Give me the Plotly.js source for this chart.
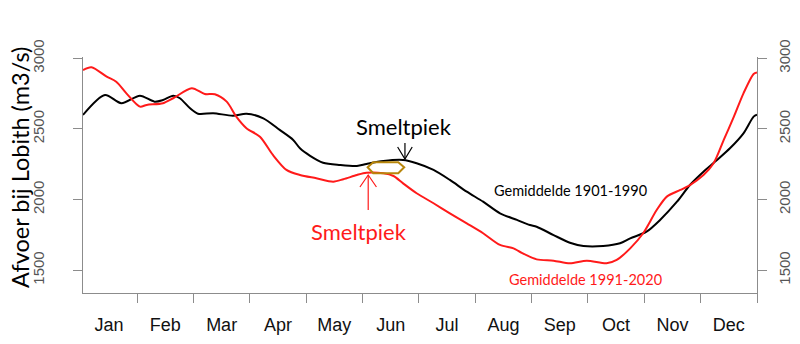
<!DOCTYPE html>
<html>
<head>
<meta charset="utf-8">
<script src="https://cdn.plot.ly/plotly-3.0.1.min.js"></script>
<style>html,body{margin:0;padding:0;background:#fff;}#chart{width:800px;height:344px;}</style>
</head>
<body>
<div id="chart"></div>
<script>
// x positions are in months since 1 January (0 = start of Jan, 12 = end of Dec)
const monthLabels = ["Jan","Feb","Mar","Apr","May","Jun","Jul","Aug","Sep","Oct","Nov","Dec"];
const monthCenters = [0.5,1.5,2.5,3.5,4.5,5.5,6.5,7.5,8.5,9.5,10.5,11.5];
const monthBounds = [1,2,3,4,5,6,7,8,9,10,11,12];
const yTicks = [1500,2000,2500,3000];

const xOld = [0.04,0.43,0.72,1.05,1.31,1.46,1.64,1.76,1.94,2.08,2.35,2.70,2.94,3.24,3.53,3.77,3.89,4.07,4.30,4.60,4.90,5.07,5.37,5.72,5.96,6.26,6.55,6.85,7.14,7.44,7.74,7.97,8.09,8.39,8.68,8.92,9.27,9.57,9.75,10.04,10.28,10.58,10.81,11.05,11.29,11.52,11.76,11.94,12.0];
const qOld = [2599,2740,2682,2735,2693,2705,2735,2717,2646,2608,2611,2594,2608,2575,2493,2422,2363,2310,2261,2245,2238,2252,2273,2280,2257,2210,2139,2056,1985,1903,1856,1820,1808,1749,1695,1672,1672,1691,1726,1773,1856,1985,2103,2197,2280,2363,2469,2587,2600];

const xNew = [0.04,0.19,0.46,0.63,0.81,1.05,1.17,1.46,1.64,1.97,2.20,2.38,2.59,2.76,2.94,3.18,3.41,3.65,3.89,4.18,4.48,4.66,4.90,5.07,5.37,5.55,5.72,5.96,6.26,6.55,6.85,7.14,7.44,7.68,7.79,8.09,8.39,8.68,8.98,9.33,9.51,9.75,9.98,10.22,10.40,10.64,10.81,11.05,11.23,11.41,11.59,11.76,11.94,12.0];
const qNew = [2917,2936,2870,2834,2752,2658,2670,2682,2717,2788,2747,2745,2693,2587,2505,2445,2316,2210,2174,2151,2127,2144,2174,2190,2186,2167,2115,2045,1974,1903,1832,1762,1679,1655,1631,1577,1568,1549,1568,1549,1573,1655,1762,1926,2021,2068,2103,2174,2257,2422,2587,2752,2889,2900];

const xRange = [0.04, 12.0];
const yRange = [1339, 3009];
const axisGray = "#8c8c8c";

const traces = [
  {x: xOld, y: qOld, type: "scatter", mode: "lines", xaxis: "x", yaxis: "y",
   line: {color: "#000000", width: 2, shape: "spline", smoothing: 0.8}, hoverinfo: "skip", showlegend: false},
  {x: xNew, y: qNew, type: "scatter", mode: "lines", xaxis: "x2", yaxis: "y2",
   line: {color: "#ff1a1a", width: 2, shape: "spline", smoothing: 0.8}, hoverinfo: "skip", showlegend: false},
  // empty helper traces so the label-only axes are drawn
  {x: [null], y: [null], type: "scatter", mode: "lines", xaxis: "x", yaxis: "y3", hoverinfo: "skip", showlegend: false},
  {x: [null], y: [null], type: "scatter", mode: "lines", xaxis: "x", yaxis: "y4", hoverinfo: "skip", showlegend: false}
];

// visible tick marks + axis lines (no labels)
const yMarks = {
  range: yRange, tickvals: yTicks, ticktext: yTicks.map(() => ""), ticks: "outside", ticklen: 9,
  tickcolor: axisGray, tickwidth: 1, showline: true, linecolor: axisGray, linewidth: 1,
  showgrid: false, zeroline: false
};
// labels only (transparent long ticks push labels outward)
const yLabels = {
  range: yRange, tickvals: yTicks, ticktext: yTicks.map(String), ticks: "outside",
  tickcolor: "rgba(0,0,0,0)", showline: false, showgrid: false, zeroline: false, tickangle: -90,
  tickfont: {family: "Liberation Sans, Arial, sans-serif", size: 15, color: "#555555"}
};

const layout = {
  width: 800, height: 344,
  margin: {l: 83, r: 43, t: 57, b: 51},
  paper_bgcolor: "#ffffff", plot_bgcolor: "#ffffff",
  xaxis: {range: xRange, tickvals: monthBounds, ticktext: monthBounds.map(() => ""), ticks: "outside",
          ticklen: 9, tickcolor: axisGray, tickwidth: 1, showline: true, linecolor: axisGray, linewidth: 1,
          showgrid: false, zeroline: false},
  xaxis2: {range: xRange, overlaying: "x", side: "bottom", tickvals: monthCenters, ticktext: monthLabels,
           ticks: "outside", ticklen: 15, tickcolor: "rgba(0,0,0,0)", showline: false, showgrid: false, zeroline: false,
           tickfont: {family: "Liberation Sans, Arial, sans-serif", size: 18, color: "#111111"}},
  yaxis: Object.assign({side: "left"}, yMarks),
  yaxis2: Object.assign({side: "right", overlaying: "y"}, yMarks),
  yaxis3: Object.assign({side: "left", overlaying: "y", ticklen: 32}, yLabels),
  yaxis4: Object.assign({side: "right", overlaying: "y", ticklen: 14}, yLabels),
  shapes: [
    // black arrow
    {type: "line", xref: "x", yref: "y", x0: 5.753, x1: 5.753, y0: 2400, y1: 2287, line: {color: "#000", width: 1.2}},
    {type: "path", xref: "x", yref: "y", path: "M 5.623 2372 L 5.753 2287 L 5.882 2372", line: {color: "#000", width: 1.2}},
    // red arrow
    {type: "line", xref: "x", yref: "y", x0: 5.101, x1: 5.101, y0: 1926, y1: 2174, line: {color: "#ff1a1a", width: 1.2}},
    {type: "path", xref: "x", yref: "y", path: "M 4.954 2089 L 5.101 2174 L 5.247 2089", line: {color: "#ff1a1a", width: 1.2}},
    // gold double arrow
    {type: "path", xref: "x", yref: "y",
     path: "M 5.091 2229 L 5.190 2265 L 5.634 2265 L 5.740 2229 L 5.634 2186 L 5.190 2186 Z",
     line: {color: "#b8860b", width: 2}, fillcolor: "rgba(0,0,0,0)"}
  ],
  annotations: [
    {xref: "paper", yref: "paper", x: -0.0935, y: 0.534, text: "Afvoer bij Lobith (m3/s)", textangle: -90,
     showarrow: false, xanchor: "center", yanchor: "middle",
     font: {family: "Lato, Carlito, sans-serif", size: 23.5, color: "#000"}},
    {xref: "x", yref: "y", x: 5.735, y: 2520, text: "Smeltpiek", showarrow: false,
     font: {family: "Lato, Carlito, sans-serif", size: 22, color: "#000"}},
    {xref: "x", yref: "y", x: 4.936, y: 1771, text: "Smeltpiek", showarrow: false,
     font: {family: "Lato, Carlito, sans-serif", size: 22, color: "#ff1a1a"}},
    {xref: "x", yref: "y", x: 8.683, y: 2061, text: "Gemiddelde 1901-1990", showarrow: false,
     font: {family: "Lato, Carlito, sans-serif", size: 14.5, color: "#000"}},
    {xref: "x", yref: "y", x: 8.949, y: 1438, text: "Gemiddelde 1991-2020", showarrow: false,
     font: {family: "Lato, Carlito, sans-serif", size: 14.5, color: "#ff1a1a"}}
  ]
};

Plotly.newPlot("chart", traces, layout, {staticPlot: true, displayModeBar: false});
</script>
</body>
</html>
